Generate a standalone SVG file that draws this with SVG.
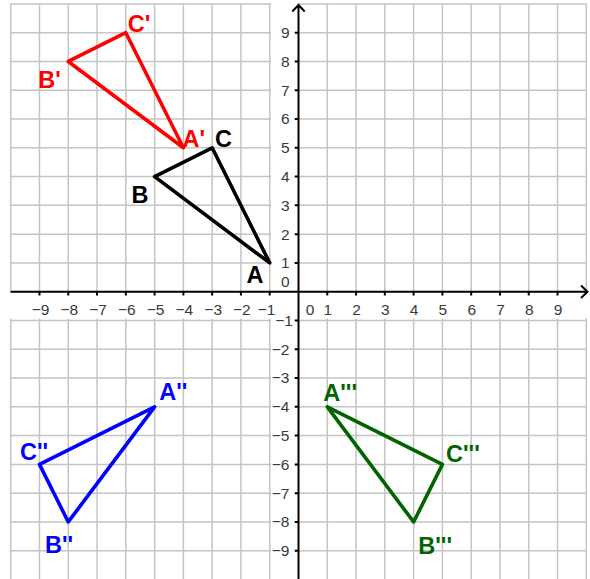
<svg xmlns="http://www.w3.org/2000/svg" width="590" height="579" viewBox="0 0 590 579">
<style>
.grid{stroke:#c4c4c4;stroke-width:1.5;fill:none}
.axis{stroke:#000;stroke-width:2;fill:none}
.tick{stroke:#000;stroke-width:2}
.num{font-family:"Liberation Sans",Arial,sans-serif;font-size:15.5px;fill:#3a3a3a}
.xl{text-anchor:middle}
.yl{text-anchor:end}
.tri{fill:none;stroke-width:3.6;stroke-linejoin:round;stroke-linecap:round}
.lab{font-family:"Liberation Sans",Arial,sans-serif;font-size:23.5px;font-weight:bold}
</style>
<rect width="590" height="579" fill="#fff"/>
<g id="grid">
<path class="grid" d="M10.7 3.9V579.5M39.48 3.9V579.5M68.26 3.9V579.5M97.04 3.9V579.5M125.82 3.9V579.5M154.6 3.9V579.5M183.38 3.9V579.5M212.16 3.9V579.5M240.94 3.9V579.5M269.72 3.9V579.5M327.28 3.9V579.5M356.06 3.9V579.5M384.84 3.9V579.5M413.62 3.9V579.5M442.4 3.9V579.5M471.18 3.9V579.5M499.96 3.9V579.5M528.74 3.9V579.5M557.52 3.9V579.5M586.3 3.9V579.5M10.7 3.9H586.3M10.7 32.68H586.3M10.7 61.46H586.3M10.7 90.24H586.3M10.7 119.02H586.3M10.7 147.8H586.3M10.7 176.58H586.3M10.7 205.36H586.3M10.7 234.14H586.3M10.7 262.92H586.3M10.7 320.48H586.3M10.7 349.26H586.3M10.7 378.04H586.3M10.7 406.82H586.3M10.7 435.6H586.3M10.7 464.38H586.3M10.7 493.16H586.3M10.7 521.94H586.3M10.7 550.72H586.3"/>
<rect x="9" y="293" width="579" height="25.5" fill="#fff"/>
<rect x="271" y="0" width="26.5" height="579" fill="#fff"/>
</g>
<g id="axes">
<path class="axis" d="M10.7 291.7H587.5M581 285.5L587.5 291.7L581 298"/>
<path class="axis" d="M298.5 579.5V5M292.3 11.5L298.5 5L304.7 11.5"/>
<path class="tick" d="M39.48 291.7v3.8M68.26 291.7v3.8M97.04 291.7v3.8M125.82 291.7v3.8M154.6 291.7v3.8M183.38 291.7v3.8M212.16 291.7v3.8M240.94 291.7v3.8M269.72 291.7v3.8M327.28 291.7v3.8M356.06 291.7v3.8M384.84 291.7v3.8M413.62 291.7v3.8M442.4 291.7v3.8M471.18 291.7v3.8M499.96 291.7v3.8M528.74 291.7v3.8M557.52 291.7v3.8M298.5 32.68h-3.8M298.5 61.46h-3.8M298.5 90.24h-3.8M298.5 119.02h-3.8M298.5 147.8h-3.8M298.5 176.58h-3.8M298.5 205.36h-3.8M298.5 234.14h-3.8M298.5 262.92h-3.8M298.5 320.48h-3.8M298.5 349.26h-3.8M298.5 378.04h-3.8M298.5 406.82h-3.8M298.5 435.6h-3.8M298.5 464.38h-3.8M298.5 493.16h-3.8M298.5 521.94h-3.8M298.5 550.72h-3.8"/>
</g>
<g id="xlabels" class="num xl">
<text x="40.5" y="315">−9</text><text x="69.3" y="315">−8</text><text x="98" y="315">−7</text><text x="126.8" y="315">−6</text><text x="155.6" y="315">−5</text><text x="184.4" y="315">−4</text><text x="213.2" y="315">−3</text><text x="241.9" y="315">−2</text><text x="266.5" y="315">−1</text>
<text x="310" y="315">0</text>
<text x="327.8" y="315">1</text><text x="356.5" y="315">2</text><text x="385.3" y="315">3</text><text x="414.1" y="315">4</text><text x="442.9" y="315">5</text><text x="471.7" y="315">6</text><text x="500.5" y="315">7</text><text x="529.2" y="315">8</text><text x="558" y="315">9</text>
</g>
<g id="ylabels" class="num yl">
<text x="289.5" y="38">9</text><text x="289.5" y="66.8">8</text><text x="289.5" y="95.6">7</text><text x="289.5" y="124.4">6</text><text x="289.5" y="153.2">5</text><text x="289.5" y="182">4</text><text x="289.5" y="210.7">3</text><text x="289.5" y="239.5">2</text><text x="289.5" y="268.3">1</text>
<text x="289.5" y="287">0</text>
<text x="293" y="326.2">−1</text><text x="289.5" y="354.7">−2</text><text x="289.5" y="383.4">−3</text><text x="289.5" y="412.2">−4</text><text x="289.5" y="441">−5</text><text x="289.5" y="469.8">−6</text><text x="289.5" y="498.6">−7</text><text x="289.5" y="527.3">−8</text><text x="289.5" y="556.1">−9</text>
</g>
<g id="triangle-ABC">
<polygon class="tri" stroke="#000" points="269.72,262.92 154.6,176.58 212.16,147.8"/>
<text class="lab" fill="#000" x="246.5" y="283.3">A</text>
<text class="lab" fill="#000" x="131.5" y="203.3">B</text>
<text class="lab" fill="#000" x="215" y="146.7">C</text>
</g>
<g id="triangle-A1B1C1">
<polygon class="tri" stroke="#ff0000" points="183.38,147.8 68.26,61.46 125.82,32.68"/>
<text class="lab" fill="#ff0000" x="182.5" y="146.5">A'</text>
<text class="lab" fill="#ff0000" x="38.3" y="87.5">B'</text>
<text class="lab" fill="#ff0000" x="127.7" y="31.5">C'</text>
</g>
<g id="triangle-A2B2C2">
<polygon class="tri" stroke="#0000ff" points="154.6,406.82 68.26,521.94 39.48,464.38"/>
<text class="lab" fill="#0000ff" x="159.3" y="400">A''</text>
<text class="lab" fill="#0000ff" x="45" y="553.3">B''</text>
<text class="lab" fill="#0000ff" x="20" y="460">C''</text>
</g>
<g id="triangle-A3B3C3">
<polygon class="tri" stroke="#006400" points="327.28,406.82 413.62,521.94 442.4,464.38"/>
<text class="lab" fill="#006400" x="323.3" y="401">A'''</text>
<text class="lab" fill="#006400" x="418.3" y="554">B'''</text>
<text class="lab" fill="#006400" x="446" y="461.5">C'''</text>
</g>
</svg>
